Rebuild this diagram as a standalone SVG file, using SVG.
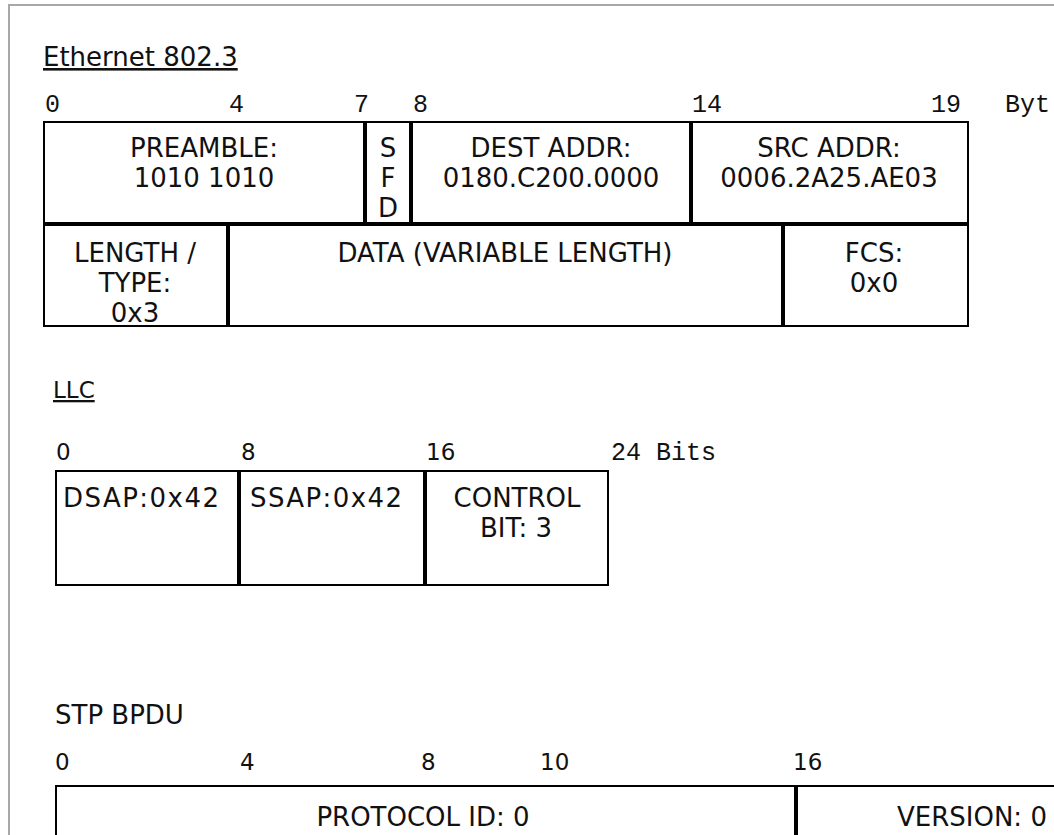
<svg xmlns="http://www.w3.org/2000/svg" width="1054" height="835" viewBox="0 0 1054 835">
<style>
.bg{fill:#ffffff}
.frame{fill:none;stroke:#a7a7a7;stroke-width:2}
.outer{fill:none;stroke:#000;stroke-width:2}
.div{stroke:#000;stroke-width:4;fill:none}
.t{font-family:"DejaVu Sans",Verdana,sans-serif;font-size:26px;fill:#111;text-anchor:middle}
.title{font-family:"DejaVu Sans",Verdana,sans-serif;font-size:26px;fill:#111}
.u{text-decoration:underline}
.mono{font-family:"Liberation Mono","Courier New",monospace;font-size:25px;fill:#111}
.num{font-family:"DejaVu Sans",Verdana,sans-serif;font-size:23px;fill:#111}
</style>
<rect class="bg" x="0" y="0" width="1054" height="835"/>
<path class="frame" d="M9,835 V5 H1054"/>

<g id="ethernet-title"><text class="title u" x="43" y="66">Ethernet 802.3</text></g>
<g id="ethernet-scale">
<text class="mono" x="45" y="112">0</text>
<text class="mono" x="229" y="112">4</text>
<text class="mono" x="354" y="112">7</text>
<text class="mono" x="413" y="112">8</text>
<text class="mono" x="692" y="112">14</text>
<text class="mono" x="931" y="112">19</text>
<text class="mono" x="1005" y="112">Byt</text>
</g>

<g id="connectors">
<rect class="outer" x="44" y="122" width="924" height="204"/>
<path class="div" d="M43,224 H969 M365,121 V224 M411,121 V224 M691,121 V224 M228,224 V327 M783,224 V327"/>
<rect class="outer" x="56" y="471" width="552" height="114"/>
<path class="div" d="M239,470 V586 M425,470 V586"/>
<path class="outer" d="M56,835 V786 H1054"/>
<path class="div" d="M796,786 V835"/>
</g>

<g id="preamble"><text class="t" x="204" y="157">PREAMBLE:</text><text class="t" x="204" y="187">1010 1010</text></g>
<g id="sfd"><text class="t" x="388" y="157">S</text><text class="t" x="388" y="187">F</text><text class="t" x="388" y="217">D</text></g>
<g id="dest-addr"><text class="t" x="551" y="157">DEST ADDR:</text><text class="t" x="551" y="187">0180.C200.0000</text></g>
<g id="src-addr"><text class="t" x="829" y="157">SRC ADDR:</text><text class="t" x="829" y="187">0006.2A25.AE03</text></g>
<g id="length-type"><text class="t" x="135" y="262">LENGTH /</text><text class="t" x="135" y="292">TYPE:</text><text class="t" x="135" y="322">0x3</text></g>
<g id="data"><text class="t" x="505" y="262">DATA (VARIABLE LENGTH)</text></g>
<g id="fcs"><text class="t" x="874" y="262">FCS:</text><text class="t" x="874" y="292">0x0</text></g>

<g id="llc-title"><text class="title u" x="53" y="398" style="font-size:23px">LLC</text></g>
<g id="llc-scale">
<text class="num" x="56" y="460">0</text>
<text class="num" x="241" y="460">8</text>
<text class="num" x="426" y="460">16</text>
<text class="mono" x="611" y="460">24 Bits</text>
</g>
<g id="dsap"><text class="t" x="63" y="507" style="text-anchor:start" textLength="156">DSAP:0x42</text></g>
<g id="ssap"><text class="t" x="250" y="507" style="text-anchor:start" textLength="152">SSAP:0x42</text></g>
<g id="control"><text class="t" x="517" y="507">CONTROL</text><text class="t" x="516" y="537">BIT: 3</text></g>

<g id="stp-title"><text class="title" x="55" y="724">STP BPDU</text></g>
<g id="stp-scale">
<text class="num" x="55" y="770">0</text>
<text class="num" x="240" y="770">4</text>
<text class="num" x="421" y="770">8</text>
<text class="num" x="540" y="770">10</text>
<text class="num" x="793" y="770">16</text>
</g>
<g id="protocol-id"><text class="t" x="423" y="826">PROTOCOL ID: 0</text></g>
<g id="version"><text class="t" x="897" y="826" style="text-anchor:start">VERSION: 0</text></g>
</svg>
